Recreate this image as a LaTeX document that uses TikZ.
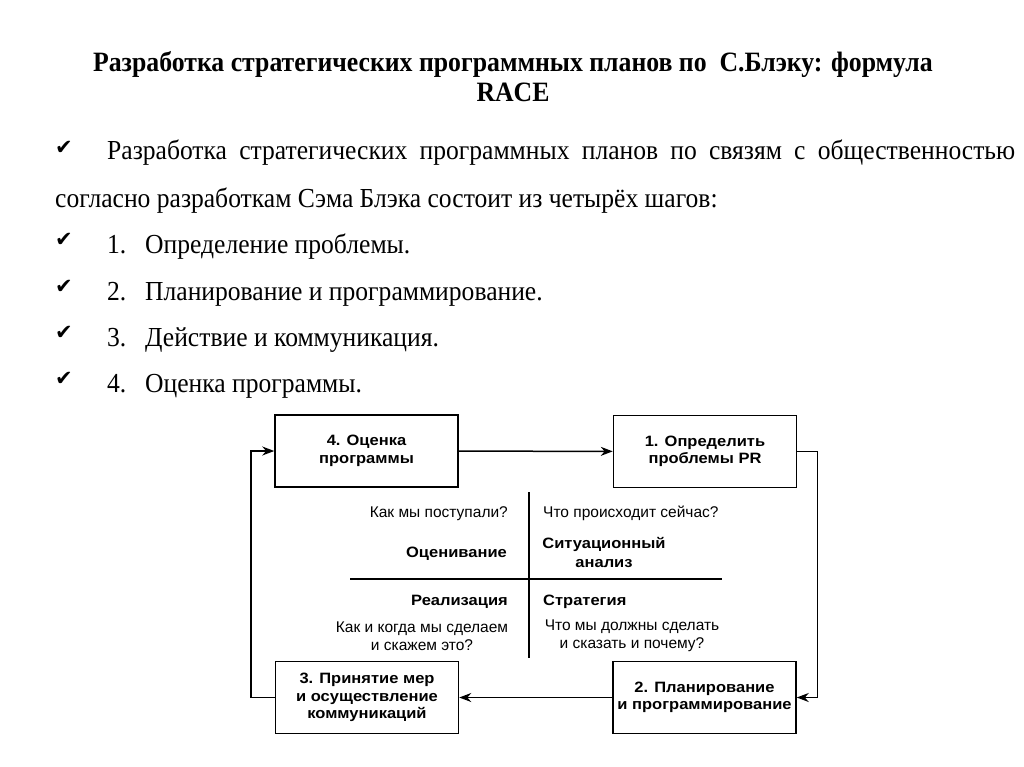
\documentclass[tikz,border=0pt]{standalone}
\usepackage{fontspec}
\setmainfont{Liberation Serif}
\setsansfont{Liberation Sans}
\newfontfamily\titlefont[FakeStretch=0.92]{Liberation Serif}
\newfontfamily\bodyfont[FakeStretch=0.93]{Liberation Serif}
\newfontfamily\boxfont[FakeStretch=1.1]{Liberation Sans}
\newfontfamily\checkfont{DejaVu Sans}
\usetikzlibrary{arrows.meta, positioning}

\begin{document}
\begin{tikzpicture}[
    x=1pt, y=-1pt,
    title/.style={font=\titlefont\bfseries\fontsize{28}{32}\selectfont, inner sep=0pt, anchor=base},
    body/.style={font=\bodyfont\fontsize{27.5}{32}\selectfont, anchor=base west, inner sep=0pt},
    tick/.style={font=\checkfont\fontsize{21}{24}\selectfont, inner sep=0pt},
    stepbox/.style={
        rectangle,
        draw,
        line width=1.5pt,
        align=center,
        font=\boxfont\bfseries\fontsize{15}{17.5}\selectfont,
        minimum width=183pt,
        minimum height=72pt
    },
    quad/.style={font=\sffamily\fontsize{15.5}{18}\selectfont, align=center, inner sep=0pt},
    quadhead/.style={font=\boxfont\bfseries\fontsize{15}{19}\selectfont, align=center, inner sep=0pt},
    arrow/.style={-{Stealth[length=12pt,width=9pt]}, line width=1.5pt}
]
\useasboundingbox (0,0) rectangle (1024,767);
\fill[white] (0,0) rectangle (1024,767);

% Title
\node[title] (title1) at (513,72) {Разработка стратегических программных планов по\ \ С.Блэку: формула};
\node[title] (title2) at (513,102) {RACE};

% Text
\node[tick] (tick0) at (64,148) {✔};
\node[body] (intro1) at (107,160) {\hbox to 908pt{Разработка\hfill стратегических\hfill программных\hfill планов\hfill по\hfill связям\hfill с\hfill общественностью}};
\node[body] (intro2) at (55,208) {согласно разработкам Сэма Блэка состоит из четырёх шагов:};

\node[tick] (tick1) at (64,240) {✔};
\node[body] (num1) at (107,253) {1.};
\node[body] (item1) at (145,253) {Определение проблемы.};
\node[tick] (tick2) at (64,287) {✔};
\node[body] (num2) at (107,300) {2.};
\node[body] (item2) at (145,300) {Планирование и программирование.};
\node[tick] (tick3) at (64,333) {✔};
\node[body] (num3) at (107,346) {3.};
\node[body] (item3) at (145,346) {Действие и коммуникация.};
\node[tick] (tick4) at (64,379) {✔};
\node[body] (num4) at (107,392) {4.};
\node[body] (item4) at (145,392) {Оценка программы.};

% Steps
\node[stepbox] (eval) at (366.5,451) {4. Оценка\\программы};
\node[stepbox] (define) at (705,451.5) {1. Определить\\проблемы PR};
\node[stepbox] (plan) at (704.5,697.5) {2. Планирование\\и программирование};
\node[stepbox] (act) at (367,697.5) {3. Принятие мер\\и осуществление\\коммуникаций};

% Cross
\coordinate (crossT) at (529,492);
\coordinate (crossB) at (529,658);
\coordinate (crossL) at (350,579);
\coordinate (crossR) at (722,579);
\draw[line width=1.5pt] (crossT) -- (crossB);
\draw[line width=1.5pt] (crossL) -- (crossR);

% Quadrant labels
\node[quad, anchor=base east] (askEval) at (508,517) {Как мы поступали?};
\node[quad, anchor=base west] (askNow) at (543,517) {Что происходит сейчас?};
\node[quadhead, anchor=base east] (headEval) at (507,557) {Оценивание};
\node[quadhead] (headSit) at (604,552) {Ситуационный\\анализ};
\node[quadhead, anchor=base east] (headReal) at (508,605) {Реализация};
\node[quadhead, anchor=base west] (headStrat) at (543,605) {Стратегия};
\node[quad] (askReal) at (422,636) {Как и когда мы сделаем\\и скажем это?};
\node[quad] (askStrat) at (632,636) {Что мы должны сделать\\и сказать и почему?};

% Cycle
\draw[arrow] (eval) -- (define);
\draw[arrow] (define.east) -- ++(20,0) |- (plan.east);
\draw[arrow] (plan) -- (act);
\draw[arrow] (act.west) -- ++(-24,0) |- (eval.west);

\end{tikzpicture}
\end{document}
